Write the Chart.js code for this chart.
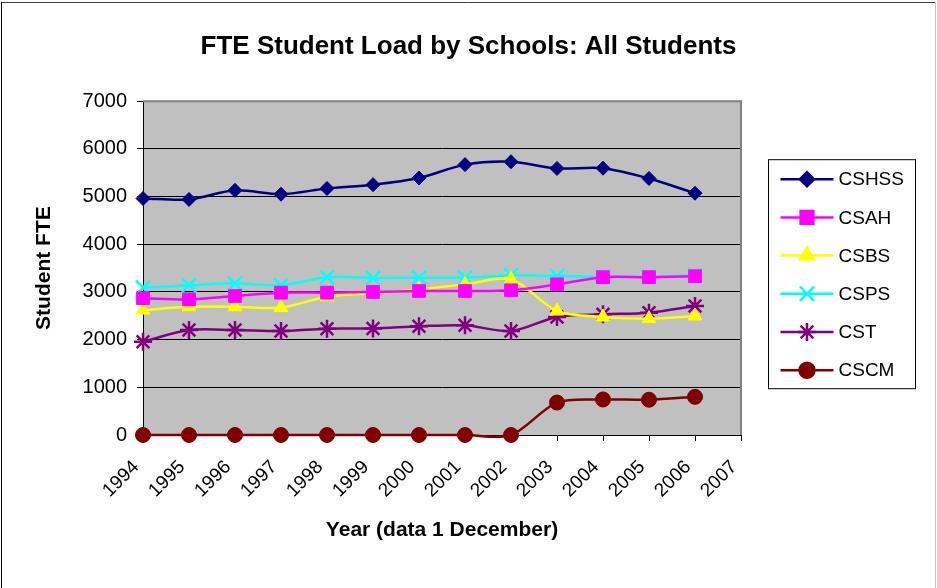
<!DOCTYPE html>
<html>
<head>
<meta charset="utf-8">
<script src="https://cdn.jsdelivr.net/npm/chart.js@4.4.1/dist/chart.umd.min.js"></script>
<style>
  body { margin: 0; background: #fff; }
  #wrap { width: 937px; height: 588px; }
</style>
</head>
<body>
<div id="wrap"><canvas id="chart" width="937" height="588"></canvas></div>
<script>
// data
const years = ['1994', '1995', '1996', '1997', '1998', '1999', '2000', '2001', '2002', '2003', '2004', '2005', '2006', '2007'];
const cshss = [4960, 4940, 5130, 5050, 5170, 5250, 5390, 5670, 5730, 5590, 5595, 5380, 5070];
const csah  = [2870, 2845, 2915, 2985, 2985, 3000, 3020, 3020, 3035, 3160, 3310, 3310, 3330];
const csbs  = [2620, 2690, 2690, 2670, 2900, 2970, 3055, 3160, 3265, 2600, 2475, 2440, 2495];
const csps  = [3090, 3140, 3180, 3140, 3310, 3295, 3300, 3300, 3350, 3335, 3315, 3315, 3350];
const cst   = [1955, 2200, 2200, 2180, 2230, 2235, 2280, 2300, 2180, 2475, 2530, 2565, 2705];
const cscm  = [0, 0, 0, 0, 0, 0, 0, 0, 0, 680, 745, 740, 800];
const yTicksMax = 7000;

Chart.defaults.font.family = "'Liberation Sans', Arial, sans-serif";
Chart.defaults.color = '#000';

function series(label, data, color, style, radius) {
    return {
        label: label,
        data: data,
        borderColor: color,
        backgroundColor: color,
        borderWidth: 2.5,
        pointStyle: style,
        pointRadius: radius,
        pointHoverRadius: radius,
        pointBackgroundColor: color,
        pointBorderColor: color,
        pointBorderWidth: (style == 'crossRot' || style == 'star') ? 2.5 : 1,
        tension: 0.3,
        fill: false,
        clip: false
    };
}

// grey plot area, frame round the picture, legend box on the right
const excelLook = {
    id: 'excelLook',
    beforeDraw(chart) {
        const {ctx, chartArea: a} = chart;
        ctx.save();
        ctx.fillStyle = '#c0c0c0';
        ctx.fillRect(a.left, a.top, a.right - a.left, a.bottom - a.top);
        ctx.restore();
    },
    beforeDatasetsDraw(chart) {
        const {ctx, chartArea: a} = chart;
        ctx.save();
        ctx.strokeStyle = '#808080';
        ctx.lineWidth = 2;
        ctx.beginPath();
        ctx.moveTo(a.left, a.top);
        ctx.lineTo(a.right, a.top);
        ctx.lineTo(a.right, a.bottom);
        ctx.stroke();
        ctx.restore();
    },
    afterDraw(chart) {
        const {ctx, chartArea: a, width} = chart;
        ctx.save();
        // outer frame
        ctx.lineWidth = 1;
        ctx.strokeStyle = '#404040';
        ctx.beginPath(); ctx.moveTo(1, 2.5); ctx.lineTo(width - 1, 2.5); ctx.stroke();
        ctx.strokeStyle = '#000';
        ctx.beginPath(); ctx.moveTo(1.5, 2); ctx.lineTo(1.5, chart.height); ctx.stroke();
        ctx.strokeStyle = '#c8c8c8';
        ctx.beginPath(); ctx.moveTo(width - 1.5, 2); ctx.lineTo(width - 1.5, chart.height); ctx.stroke();

        // legend
        const bx = a.right + 27.5, by = a.top + 58.5, bw = 147, bh = 229;
        ctx.fillStyle = '#fff';
        ctx.fillRect(bx, by, bw, bh);
        ctx.strokeStyle = '#000';
        ctx.strokeRect(bx, by, bw, bh);
        ctx.font = "19px 'Liberation Sans', Arial, sans-serif";
        ctx.textBaseline = 'middle';
        chart.data.datasets.forEach((ds, i) => {
            const y = by + 19.5 + i * 38.2;
            const x0 = bx + 12, x1 = bx + 65, xm = (x0 + x1) / 2;
            ctx.strokeStyle = ds.borderColor;
            ctx.fillStyle = ds.borderColor;
            ctx.lineWidth = 2.5;
            ctx.beginPath(); ctx.moveTo(x0, y); ctx.lineTo(x1, y); ctx.stroke();
            Chart.helpers.drawPoint(ctx, {
                pointStyle: ds.pointStyle,
                radius: ds.pointRadius,
                borderWidth: ds.pointBorderWidth,
                rotation: 0
            }, xm, y);
            ctx.fillStyle = '#000';
            ctx.fillText(ds.label, bx + 70, y + 1);
        });
        ctx.restore();
    }
};

new Chart(document.querySelector('#chart').getContext('2d'), {
    type: 'line',
    data: {
        labels: years,
        datasets: [
            series('CSHSS', cshss, '#000080', 'rectRot', 7),
            series('CSAH', csah, '#ff00ff', 'rect', 9),
            series('CSBS', csbs, '#ffff00', 'triangle', 8),
            series('CSPS', csps, '#00ffff', 'crossRot', 10),
            series('CST', cst, '#800080', 'star', 9),
            series('CSCM', cscm, '#800000', 'circle', 7.5)
        ]
    },
    options: {
        responsive: false,
        animation: false,
        events: [],
        layout: { padding: 0 },
        elements: { line: { capBezierPoints: false } },
        plugins: {
            legend: { display: false },
            tooltip: { enabled: false },
            title: {
                display: true,
                text: 'FTE Student Load by Schools: All Students',
                font: { size: 26, weight: 'bold' },
                color: '#000',
                padding: { top: 31, bottom: 39 }
            }
        },
        scales: {
            x: {
                offset: false,
                border: { color: '#000', width: 1 },
                grid: { drawOnChartArea: false, drawTicks: true, tickLength: 6, color: '#000' },
                ticks: { minRotation: 45, maxRotation: 45, autoSkip: false, font: { size: 19 }, padding: 15, labelOffset: -7 },
                title: {
                    display: true,
                    text: 'Year (data 1 December)',
                    font: { size: 21, weight: 'bold' },
                    padding: { top: 4, bottom: 45 }
                },
                afterFit: s => { s.height = 153; }
            },
            y: {
                min: 0,
                max: yTicksMax,
                border: { color: '#000', width: 1 },
                grid: {
                    color: c => (c.tick && c.tick.value === yTicksMax) ? '#808080' : '#000',
                    tickColor: '#000',
                    tickLength: 6
                },
                ticks: { stepSize: 1000, font: { size: 20 }, padding: 10, callback: v => String(v) },
                title: {
                    display: true,
                    text: 'Student FTE',
                    font: { size: 21, weight: 'bold' },
                    padding: { top: 32, bottom: 0 }
                },
                afterFit: s => { s.width = 143; }
            },
            // empty right-hand axis only keeps room for the legend box
            side: {
                position: 'right',
                display: true,
                grid: { display: false },
                border: { display: false },
                ticks: { display: false },
                afterFit: s => { s.width = 196; }
            }
        }
    },
    plugins: [excelLook]
});
</script>
</body>
</html>
